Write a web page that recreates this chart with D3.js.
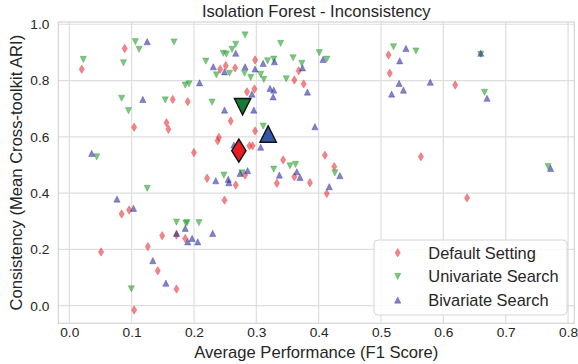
<!DOCTYPE html>
<html><head><meta charset="utf-8">
<script src="https://cdn.jsdelivr.net/npm/d3@7"></script>
<style>html,body{margin:0;padding:0;background:#fff;} svg{display:block;font-family:"Liberation Sans",Arial,sans-serif;}</style>
</head><body><svg id="c" width="578" height="364"></svg>
<script>
// ---- data ----
const seriesNames = ["Default Setting", "Univariate Search", "Bivariate Search"];
const xTicks = [0.0, 0.1, 0.2, 0.3, 0.4, 0.5, 0.6, 0.7, 0.8];
const yTicks = [0.0, 0.2, 0.4, 0.6, 0.8, 1.0];

const defaultF1  = [0.020,0.089,0.242,0.251,0.266,0.166,0.190,0.259,0.156,0.159,0.104,0.240,0.238,0.200,0.298,0.368,0.361,0.376,0.512,0.514,0.285,0.297,0.298,0.289,0.294,0.410,0.343,0.425,0.619,0.564,0.638,0.221,0.267,0.249,0.084,0.096,0.172,0.149,0.186,0.126,0.051,0.142,0.172,0.104,0.282,0.333,0.361,0.386,0.413];
const defaultARI = [0.840,0.914,0.840,0.853,0.845,0.733,0.725,0.656,0.650,0.627,0.634,0.598,0.586,0.544,0.873,0.835,0.802,0.788,0.891,0.826,0.760,0.770,0.621,0.568,0.568,0.535,0.518,0.494,0.784,0.529,0.383,0.453,0.429,0.375,0.326,0.340,0.251,0.249,0.239,0.210,0.191,0.124,0.059,-0.015,0.464,0.435,0.458,0.437,0.399];

const uniF1  = [0.0225,0.087,0.106,0.112,0.168,0.219,0.236,0.257,0.247,0.252,0.261,0.267,0.186,0.192,0.084,0.154,0.229,0.095,0.044,0.282,0.281,0.291,0.307,0.312,0.318,0.328,0.339,0.359,0.373,0.348,0.401,0.413,0.520,0.311,0.354,0.363,0.556,0.660,0.666,0.768,0.248,0.125,0.172,0.187,0.189,0.208,0.0995,0.277,0.328,0.426];
const uniARI = [0.875,0.863,0.938,0.911,0.937,0.869,0.820,0.826,0.897,0.894,0.911,0.929,0.784,0.788,0.737,0.731,0.723,0.693,0.529,0.962,0.826,0.811,0.822,0.804,0.870,0.876,0.932,0.881,0.861,0.806,0.899,0.876,0.920,0.638,0.497,0.502,0.905,0.893,0.758,0.494,0.464,0.417,0.297,0.293,0.295,0.295,0.060,0.472,0.485,0.472];

const biF1  = [0.125,0.231,0.249,0.267,0.209,0.118,0.249,0.036,0.282,0.298,0.311,0.329,0.374,0.382,0.407,0.540,0.530,0.529,0.536,0.517,0.293,0.322,0.328,0.327,0.296,0.394,0.307,0.264,0.660,0.579,0.670,0.772,0.235,0.255,0.256,0.274,0.0765,0.103,0.186,0.172,0.197,0.190,0.206,0.230,0.134,0.155,0.286,0.337,0.365,0.370,0.434,0.417];
const biARI = [0.938,0.849,0.831,0.897,0.792,0.733,0.695,0.541,0.849,0.841,0.861,0.867,0.845,0.759,0.875,0.914,0.870,0.790,0.766,0.752,0.752,0.772,0.766,0.742,0.695,0.636,0.563,0.571,0.897,0.794,0.737,0.488,0.444,0.449,0.437,0.470,0.379,0.346,0.275,0.257,0.239,0.227,0.227,0.257,0.160,0.080,0.480,0.464,0.476,0.456,0.462,0.423];

const meanF1  = [0.272, 0.278, 0.319];
const meanARI = [0.551, 0.707, 0.610];

// ---- styling ----
const pointColors = ["#e8343b", "#2a9e2e", "#2f2fa0"];
const meanColors  = ["#e81c24", "#167a34", "#3556a8"];
const shapes = ["diamond", "down", "up"];

const svg = d3.select("#c");
const x = d3.scaleLinear().domain([-0.0176, 0.81]).range([58.3, 574.3]);
const y = d3.scaleLinear().domain([-0.0625, 1.008]).range([323.3, 22]);
const textCol = "#262626";

function shapePath(kind, r) {
  if (kind === "diamond") {
    const hw = r * 0.62, hh = r;
    return `M0,${-hh}L${hw},0L0,${hh}L${-hw},0Z`;
  }
  if (kind === "up") return `M0,${-r}L${r},${r}L${-r},${r}Z`;
  return `M0,${r}L${r},${-r}L${-r},${-r}Z`;
}

// grid
const g = svg.append("g");
g.selectAll("line.vg").data(xTicks).join("line")
  .attr("x1", d => x(d)).attr("x2", d => x(d)).attr("y1", y.range()[1]).attr("y2", y.range()[0])
  .attr("stroke", "#dedede").attr("stroke-width", 1.2);
g.selectAll("line.hg").data(yTicks).join("line")
  .attr("y1", d => y(d)).attr("y2", d => y(d)).attr("x1", x.range()[0]).attr("x2", x.range()[1])
  .attr("stroke", "#dedede").attr("stroke-width", 1.2);
g.append("rect").attr("x", x.range()[0]).attr("y", y.range()[1])
  .attr("width", x.range()[1] - x.range()[0]).attr("height", y.range()[0] - y.range()[1])
  .attr("fill", "none").attr("stroke", "#d4d4d4").attr("stroke-width", 1.2);

// axes via d3
const xAxis = d3.axisBottom(x).tickValues(xTicks).tickFormat(d3.format(".1f")).tickSize(0).tickPadding(4);
const yAxis = d3.axisLeft(y).tickValues(yTicks).tickFormat(d3.format(".1f")).tickSize(0).tickPadding(9);
const xg = svg.append("g").attr("transform", `translate(0,${y.range()[0]})`).call(xAxis);
const yg = svg.append("g").attr("transform", `translate(${x.range()[0]},0)`).call(yAxis);
[xg, yg].forEach(a => {
  a.select(".domain").remove();
  a.selectAll("text").attr("fill", textCol).style("font-size", "13.7px").style("font-family", '"Liberation Sans",Arial,sans-serif');
});

// points
const series = [
  [defaultF1, defaultARI],
  [uniF1, uniARI],
  [biF1, biARI]
];
series.forEach((s, i) => {
  const pts = s[0].map((v, k) => [v, s[1][k]]);
  svg.append("g").selectAll("path").data(pts).join("path")
    .attr("d", shapePath(shapes[i], i === 0 ? 4.2 : 3.1))
    .attr("transform", d => `translate(${x(d[0])},${y(d[1])})`)
    .attr("fill", pointColors[i]).attr("fill-opacity", 0.6)
    .attr("stroke", pointColors[i]).attr("stroke-opacity", 0.6).attr("stroke-width", 0.6);
});

// means
meanF1.forEach((v, i) => {
  svg.append("path")
    .attr("d", shapePath(shapes[i], i === 0 ? 11.5 : 8.2))
    .attr("transform", `translate(${x(v)},${y(meanARI[i])})`)
    .attr("fill", meanColors[i]).attr("stroke", "#111").attr("stroke-width", 1.4)
    .attr("stroke-linejoin", "miter");
});

// title & labels
svg.append("text").attr("x", (x.range()[0] + x.range()[1]) / 2).attr("y", 17)
  .attr("text-anchor", "middle").attr("fill", textCol).style("font-size", "16.6px")
  .text("Isolation Forest - Inconsistency");
svg.append("text").attr("x", (x.range()[0] + x.range()[1]) / 2).attr("y", 358)
  .attr("text-anchor", "middle").attr("fill", textCol).style("font-size", "16.6px")
  .text("Average Performance (F1 Score)");
svg.append("text").attr("transform", `translate(22,${(y.range()[0] + y.range()[1]) / 2}) rotate(-90)`)
  .attr("text-anchor", "middle").attr("fill", textCol).style("font-size", "16.6px")
  .text("Consistency (Mean Cross-toolkit ARI)");

// legend
const lg = svg.append("g");
lg.append("rect").attr("x", 374).attr("y", 240).attr("width", 193).attr("height", 75)
  .attr("rx", 4).attr("fill", "#fff").attr("fill-opacity", 0.85)
  .attr("stroke", "#d6d6d6").attr("stroke-width", 1);
seriesNames.forEach((nm, i) => {
  const cy = 252.7 + i * 23.7;
  lg.append("path").attr("d", shapePath(shapes[i], i === 0 ? 4.2 : 3.1))
    .attr("transform", `translate(397.7,${cy})`)
    .attr("fill", pointColors[i]).attr("fill-opacity", 0.6)
    .attr("stroke", pointColors[i]).attr("stroke-opacity", 0.6).attr("stroke-width", 0.6);
  lg.append("text").attr("x", 428.3).attr("y", cy + 5.8).attr("fill", textCol)
    .style("font-size", "16.4px").text(nm);
});
</script></body></html>
